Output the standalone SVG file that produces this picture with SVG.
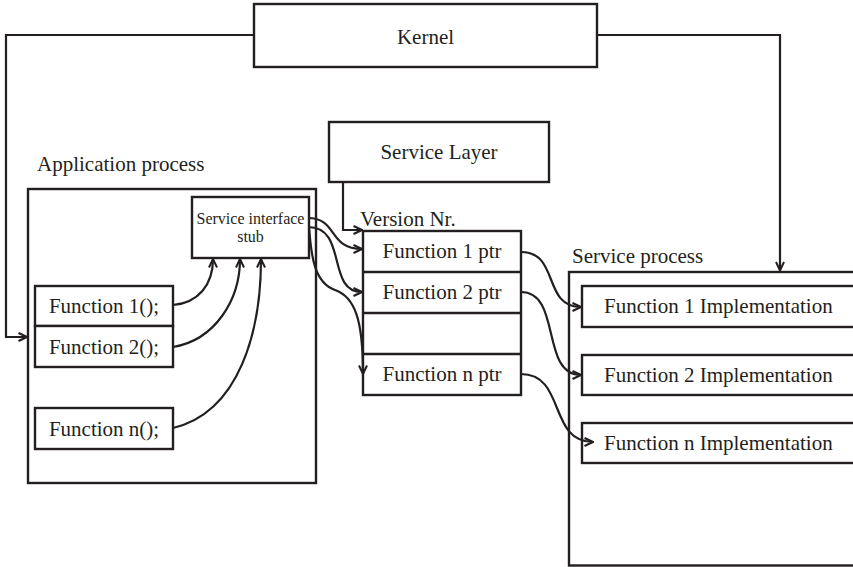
<svg xmlns="http://www.w3.org/2000/svg" width="853" height="567" viewBox="0 0 853 567">
  <defs>
    <marker id="arr" viewBox="0 0 10 10" refX="9.5" refY="5" markerWidth="10" markerHeight="10" markerUnits="userSpaceOnUse" orient="auto">
      <path d="M1,1 L9.5,5 L1,9" fill="none" stroke="#231f20" stroke-width="2"/>
    </marker>
  </defs>
  <style>
    .b { fill: #ffffff; stroke: #231f20; stroke-width: 2.4; }
    .t { font-family: "Liberation Serif", "Times New Roman", serif; font-size: 21px; fill: #231f20; }
    .s { font-family: "Liberation Serif", "Times New Roman", serif; font-size: 16px; fill: #231f20; }
    .c { text-anchor: middle; }
    .ln { fill: none; stroke: #231f20; stroke-width: 2.2; }
    .dv { fill: none; stroke: #231f20; stroke-width: 2.4; }
    .a { marker-end: url(#arr); }
  </style>
  <rect width="853" height="567" fill="#ffffff"/>

  <g id="application-process">
    <rect class="b" x="28" y="189" width="288" height="294"/>
    <text class="t" x="37" y="171">Application process</text>
  </g>

  <g id="service-process">
    <rect class="b" x="569" y="272" width="300" height="293.5"/>
    <text class="t" x="572" y="263">Service process</text>
  </g>

  <g id="kernel">
    <rect class="b" x="254" y="4" width="343" height="63"/>
    <text class="t c" x="425.5" y="44">Kernel</text>
  </g>

  <g id="service-layer">
    <rect class="b" x="329" y="122" width="220" height="60"/>
    <text class="t c" x="439" y="159">Service Layer</text>
  </g>

  <g id="service-interface-stub">
    <rect class="b" x="192" y="197" width="117" height="61"/>
    <text class="s c" x="250.5" y="224">Service interface</text>
    <text class="s c" x="250.5" y="242">stub</text>
  </g>

  <g id="function-1">
    <rect class="b" x="35" y="286" width="138" height="40"/>
    <text class="t c" x="104" y="313">Function 1();</text>
  </g>
  <g id="function-2">
    <rect class="b" x="35" y="326" width="138" height="41"/>
    <text class="t c" x="104" y="354">Function 2();</text>
  </g>
  <g id="function-n">
    <rect class="b" x="35" y="408" width="138" height="41"/>
    <text class="t c" x="104" y="436">Function n();</text>
  </g>

  <g id="version-table">
    <text class="t" x="360" y="226">Version Nr.</text>
    <rect class="b" x="363" y="231" width="158" height="164"/>
    <line class="dv" x1="363" y1="272" x2="521" y2="272"/>
    <line class="dv" x1="363" y1="313" x2="521" y2="313"/>
    <line class="dv" x1="363" y1="354" x2="521" y2="354"/>
  </g>
  <g id="function-1-ptr">
    <text class="t c" x="442" y="258">Function 1 ptr</text>
  </g>
  <g id="function-2-ptr">
    <text class="t c" x="442" y="299">Function 2 ptr</text>
  </g>
  <g id="function-n-ptr">
    <text class="t c" x="442" y="381">Function n ptr</text>
  </g>

  <g id="function-1-impl">
    <rect class="b" x="582" y="286" width="290" height="41"/>
    <text class="t" x="604" y="313">Function 1 Implementation</text>
  </g>
  <g id="function-2-impl">
    <rect class="b" x="582" y="355" width="290" height="40"/>
    <text class="t" x="604" y="382">Function 2 Implementation</text>
  </g>
  <g id="function-n-impl">
    <rect class="b" x="582" y="423" width="290" height="40"/>
    <text class="t" x="604" y="450">Function n Implementation</text>
  </g>

  <g id="connectors">
    <path class="ln a" d="M254,35 H6 V337 H27"/>
    <path class="ln a" d="M597,35 H780 V270.5"/>
    <path class="ln a" d="M343,182 V230 H362"/>
    <path class="ln a" d="M173,305 C198,303 213,285 213,259"/>
    <path class="ln a" d="M173,347 C215,340 240,300 240,259"/>
    <path class="ln a" d="M173,428 C240,412 261,330 261,259"/>
    <path class="ln a" d="M308,218 C338,218 328,249 362,249"/>
    <path class="ln a" d="M308,227 C348,227 326,292 362,292"/>
    <path class="ln a" d="M309,228 C311,245 311,282 335,290 C355,297 363,320 363,374"/>
    <path class="ln a" d="M521,252 C560,252 542,307 581,307"/>
    <path class="ln a" d="M521,292 C562,292 540,375 581,375"/>
    <path class="ln a" d="M521,374 C566,374 548,442 593,442"/>
  </g>
</svg>
